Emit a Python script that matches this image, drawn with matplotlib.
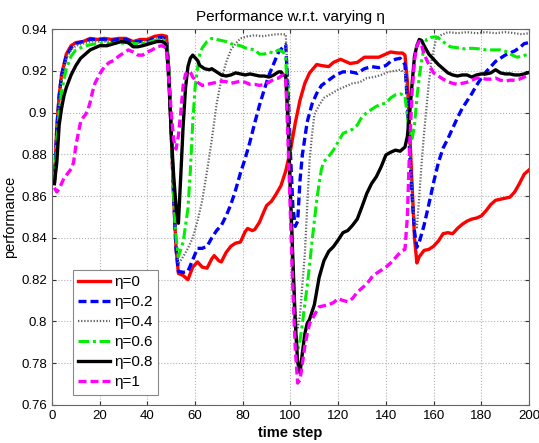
import matplotlib
matplotlib.use("Agg")
import matplotlib.pyplot as plt

plt.rcParams['font.family'] = ['Liberation Sans', 'DejaVu Sans']

# eta = 0
red_t = [1, 2, 3, 4, 6, 8, 10, 13, 16, 19, 22, 25, 28, 31, 34, 37, 40, 43, 46, 48,
         49, 50, 51, 52, 53, 55, 57, 59, 61, 63, 65, 67, 68, 70, 71, 73, 75, 77, 79, 81,
         82, 84, 85, 87, 89, 90, 92, 94, 96, 98, 100, 102, 104, 106, 108, 111, 113, 116, 118, 121,
         123, 125, 128, 131, 134, 137, 140, 142, 145, 147, 148, 149, 150, 151, 152, 153, 154, 156, 158, 160,
         162, 164, 166, 168, 170, 172, 174, 176, 178, 180, 182, 184, 186, 188, 190, 192, 194, 196, 198, 200]
red_v = [0.866, 0.893, 0.908, 0.918, 0.928, 0.932, 0.9335, 0.934, 0.9355, 0.935, 0.9355, 0.935, 0.9355, 0.9355, 0.934, 0.935, 0.935, 0.9365, 0.937, 0.9365,
         0.92, 0.89, 0.86, 0.835, 0.823, 0.822, 0.820, 0.826, 0.8285, 0.826, 0.8255, 0.830, 0.8315, 0.829, 0.8285, 0.833, 0.836, 0.8375, 0.838, 0.843,
         0.8445, 0.8435, 0.844, 0.8475, 0.853, 0.8555, 0.8575, 0.861, 0.865, 0.872, 0.882, 0.895, 0.906, 0.914, 0.919, 0.923, 0.9225, 0.922, 0.924, 0.9255,
         0.9245, 0.9235, 0.924, 0.9265, 0.9265, 0.9265, 0.928, 0.929, 0.9285, 0.9285, 0.9275, 0.915, 0.89, 0.865, 0.84, 0.828, 0.831, 0.834, 0.8345, 0.836,
         0.8385, 0.842, 0.8425, 0.842, 0.8445, 0.8465, 0.848, 0.849, 0.8495, 0.8505, 0.853, 0.856, 0.858, 0.8585, 0.859, 0.8595, 0.862, 0.866, 0.8705, 0.8725]

# eta = 0.2
blue_t = [1, 2, 3, 4, 6, 8, 10, 13, 16, 19, 22, 25, 28, 31, 34, 37, 40, 43, 46, 48,
          49, 50, 51, 52, 53, 55, 57, 59, 61, 63, 65, 67, 69, 71, 73, 75, 77, 79, 81, 83,
          85, 87, 89, 91, 93, 95, 97, 98, 99, 100, 101, 102, 103, 104, 105, 107, 109, 111, 113, 116,
          119, 122, 125, 128, 131, 134, 137, 140, 142, 144, 146, 147, 148, 149, 150, 151, 152, 153, 154, 156,
          158, 160, 162, 164, 166, 168, 170, 172, 174, 176, 178, 180, 182, 184, 186, 188, 190, 192, 194, 196, 198, 200]
blue_v = [0.866, 0.892, 0.908, 0.918, 0.927, 0.931, 0.933, 0.934, 0.935, 0.935, 0.935, 0.9345, 0.935, 0.935, 0.934, 0.934, 0.934, 0.9355, 0.936, 0.935,
          0.92, 0.89, 0.86, 0.835, 0.824, 0.8235, 0.824, 0.8295, 0.835, 0.835, 0.836, 0.840, 0.8435, 0.846, 0.8505, 0.856, 0.863, 0.871, 0.878, 0.886,
          0.895, 0.9035, 0.911, 0.918, 0.9235, 0.929, 0.9315, 0.9325, 0.91, 0.88, 0.855, 0.8455, 0.848, 0.8677, 0.88, 0.8955, 0.904, 0.9092, 0.913, 0.9155,
          0.918, 0.9195, 0.9195, 0.9188, 0.921, 0.922, 0.9215, 0.9225, 0.9245, 0.9255, 0.926, 0.9245, 0.923, 0.905, 0.88, 0.86, 0.843, 0.8355, 0.838, 0.846,
          0.856, 0.8665, 0.876, 0.883, 0.8875, 0.8925, 0.8975, 0.902, 0.9055, 0.909, 0.913, 0.9165, 0.9195, 0.922, 0.9245, 0.926, 0.9275, 0.9285, 0.9295, 0.931, 0.933, 0.9335]

# eta = 0.4
gray_t = [1, 2, 3, 4, 6, 8, 10, 13, 16, 19, 22, 25, 28, 31, 34, 37, 40, 43, 46, 48,
          49, 50, 51, 52, 53, 55, 57, 59, 61, 63, 65, 67, 69, 71, 73, 75, 77, 79, 82, 85,
          88, 91, 94, 96, 98, 99, 100, 101, 102, 103, 104, 105, 106, 107, 108, 109, 110, 112, 114, 117,
          120, 123, 126, 129, 132, 135, 138, 141, 144, 146, 148, 149, 150, 151, 152, 153, 154, 155, 156, 157,
          158, 159, 160, 161, 163, 166, 170, 174, 178, 182, 186, 190, 194, 197, 200]
gray_v = [0.866, 0.890, 0.906, 0.916, 0.926, 0.930, 0.932, 0.933, 0.934, 0.934, 0.934, 0.9335, 0.934, 0.934, 0.933, 0.9335, 0.9335, 0.935, 0.9355, 0.935,
          0.92, 0.89, 0.86, 0.838, 0.8275, 0.831, 0.835, 0.840, 0.848, 0.858, 0.872, 0.887, 0.904, 0.916, 0.924, 0.930, 0.933, 0.9355, 0.9365, 0.937,
          0.9365, 0.937, 0.9375, 0.9375, 0.9375, 0.915, 0.87, 0.83, 0.805, 0.797, 0.803, 0.818, 0.832, 0.855, 0.877, 0.889, 0.899, 0.9035, 0.907, 0.909,
          0.911, 0.9125, 0.914, 0.9145, 0.9165, 0.917, 0.918, 0.9195, 0.920, 0.9205, 0.919, 0.905, 0.885, 0.862, 0.848, 0.845, 0.86, 0.876, 0.89, 0.902,
          0.914, 0.924, 0.930, 0.935, 0.937, 0.9385, 0.938, 0.9385, 0.938, 0.9385, 0.938, 0.9385, 0.938, 0.9375, 0.938]

# eta = 0.6
green_t = [1, 2, 3, 4, 6, 8, 10, 13, 16, 19, 22, 25, 28, 31, 34, 37, 40, 43, 46, 48,
           49, 50, 51, 52, 53, 55, 57, 58, 59, 60, 61, 62, 63, 65, 67, 69, 71, 73, 75, 77,
           79, 81, 83, 85, 87, 89, 91, 93, 95, 97, 98, 99, 100, 101, 102, 103, 104, 105, 106, 107,
           108, 109, 110, 111, 112, 113, 114, 116, 118, 120, 122, 124, 126, 128, 130, 132, 134, 136, 138, 140,
           142, 144, 146, 148, 149, 150, 151, 152, 153, 154, 155, 156, 157, 159, 161, 163, 165, 167, 170, 173,
           176, 179, 182, 185, 188, 191, 193, 195, 197, 200]
green_v = [0.866, 0.885, 0.900, 0.910, 0.921, 0.927, 0.930, 0.9315, 0.9325, 0.933, 0.933, 0.933, 0.9335, 0.933, 0.933, 0.933, 0.9335, 0.9345, 0.935, 0.934,
           0.92, 0.89, 0.86, 0.84, 0.831, 0.838, 0.854, 0.872, 0.895, 0.912, 0.921, 0.928, 0.931, 0.934, 0.9355, 0.935, 0.9345, 0.934, 0.933, 0.9325,
           0.932, 0.931, 0.9305, 0.930, 0.928, 0.928, 0.929, 0.9285, 0.930, 0.929, 0.926, 0.90, 0.86, 0.82, 0.795, 0.786, 0.791, 0.799, 0.808, 0.817,
           0.827, 0.838, 0.848, 0.858, 0.866, 0.873, 0.8765, 0.879, 0.882, 0.886, 0.890, 0.891, 0.892, 0.894, 0.898, 0.900, 0.9015, 0.903, 0.904, 0.9045,
           0.907, 0.9085, 0.909, 0.908, 0.898, 0.889, 0.8875, 0.894, 0.907, 0.917, 0.925, 0.931, 0.935, 0.936, 0.9363, 0.935, 0.933, 0.9315, 0.931, 0.9305,
           0.9308, 0.9305, 0.930, 0.930, 0.930, 0.929, 0.9275, 0.9265, 0.927, 0.928]

# eta = 0.8
black_t = [1, 2, 3, 4, 5, 6, 8, 10, 12, 14, 16, 18, 20, 23, 26, 29, 32, 34, 36, 38,
           41, 44, 46, 47, 48, 49, 50, 51, 52, 53, 54, 55, 56, 57, 58, 59, 61, 62, 64, 66,
           67, 69, 71, 73, 75, 77, 79, 81, 83, 85, 87, 89, 91, 93, 95, 96, 97, 98, 99, 100,
           101, 102, 103, 104, 105, 106, 107, 108, 110, 112, 114, 116, 118, 120, 122, 124, 126, 128, 130, 132,
           134, 136, 138, 140, 142, 144, 146, 147, 148, 149, 150, 151, 152, 153, 154, 155, 156, 158, 160, 162,
           164, 166, 168, 170, 172, 174, 176, 178, 180, 182, 184, 186, 188, 190, 192, 194, 196, 198, 200]
black_v = [0.866, 0.876, 0.894, 0.902, 0.908, 0.912, 0.918, 0.9225, 0.926, 0.928, 0.930, 0.931, 0.932, 0.932, 0.933, 0.934, 0.9335, 0.9315, 0.9315, 0.932,
           0.933, 0.934, 0.934, 0.9335, 0.932, 0.915, 0.89, 0.87, 0.855, 0.847, 0.87, 0.894, 0.912, 0.922, 0.926, 0.9275, 0.925, 0.9225, 0.921, 0.9205,
           0.921, 0.9195, 0.918, 0.9175, 0.918, 0.919, 0.9185, 0.918, 0.9185, 0.918, 0.9175, 0.9175, 0.917, 0.918, 0.9195, 0.9195, 0.918, 0.9175, 0.895, 0.86,
           0.83, 0.80, 0.7805, 0.7755, 0.785, 0.794, 0.799, 0.801, 0.808, 0.821, 0.829, 0.8335, 0.8358, 0.839, 0.8425, 0.8435, 0.846, 0.849, 0.855, 0.8613,
           0.866, 0.8693, 0.874, 0.8797, 0.881, 0.882, 0.8815, 0.8825, 0.8835, 0.8885, 0.900, 0.914, 0.927, 0.932, 0.935, 0.9345, 0.932, 0.928, 0.9255, 0.923,
           0.921, 0.919, 0.918, 0.9175, 0.918, 0.918, 0.917, 0.918, 0.9185, 0.9185, 0.919, 0.9205, 0.919, 0.9185, 0.9185, 0.918, 0.918, 0.9185, 0.9192]

# eta = 1
mag_t = [1, 2, 3, 4, 5, 6, 7, 8, 9, 10, 11, 12, 13, 14, 15, 16, 17, 18, 20, 22,
         24, 26, 28, 30, 32, 34, 36, 38, 40, 42, 44, 46, 47, 48, 49, 50, 51, 52, 53, 54,
         55, 56, 57, 58, 59, 61, 63, 65, 67, 69, 71, 73, 75, 77, 79, 81, 83, 85, 87, 89,
         91, 93, 95, 96, 97, 98, 99, 100, 101, 102, 103, 104, 105, 106, 107, 108, 110, 112, 114, 116,
         118, 120, 122, 124, 126, 128, 130, 132, 134, 136, 138, 140, 142, 144, 146, 147, 148, 149, 150, 151,
         152, 153, 154, 155, 156, 157, 158, 160, 162, 164, 166, 168, 170, 172, 174, 176, 178, 180, 182, 184,
         186, 188, 190, 192, 194, 196, 198, 200]
mag_v = [0.864, 0.862, 0.8635, 0.866, 0.8685, 0.870, 0.8715, 0.873, 0.876, 0.884, 0.890, 0.8955, 0.8975, 0.899, 0.901, 0.905, 0.910, 0.914, 0.9185, 0.922,
         0.924, 0.925, 0.927, 0.9285, 0.930, 0.929, 0.9275, 0.9275, 0.929, 0.930, 0.9315, 0.932, 0.9315, 0.9305, 0.915, 0.90, 0.887, 0.8825, 0.889, 0.900,
         0.913, 0.9185, 0.9195, 0.9195, 0.917, 0.9145, 0.913, 0.9135, 0.914, 0.9145, 0.915, 0.9148, 0.914, 0.9145, 0.915, 0.9145, 0.9135, 0.9135, 0.913, 0.9135,
         0.9145, 0.916, 0.9165, 0.9175, 0.918, 0.9165, 0.885, 0.85, 0.815, 0.787, 0.7705, 0.772, 0.780, 0.788, 0.794, 0.799, 0.803, 0.807, 0.8075, 0.808,
         0.809, 0.811, 0.810, 0.8095, 0.811, 0.814, 0.816, 0.818, 0.821, 0.823, 0.8245, 0.826, 0.828, 0.8305, 0.833, 0.834, 0.8345, 0.850, 0.885, 0.910,
         0.925, 0.932, 0.934, 0.932, 0.928, 0.9255, 0.923, 0.919, 0.9175, 0.916, 0.9148, 0.914, 0.9135, 0.914, 0.9145, 0.9155, 0.9165, 0.9165, 0.916, 0.916,
         0.9165, 0.9155, 0.915, 0.9155, 0.9155, 0.916, 0.917, 0.918]

labels = [u"\u03b7=0", u"\u03b7=0.2", u"\u03b7=0.4", u"\u03b7=0.6", u"\u03b7=0.8", u"\u03b7=1"]

fig = plt.figure(figsize=(5.39, 4.43), dpi=100)
ax = fig.add_axes([0.0965, 0.0858, 0.8849, 0.8487])

ax.plot(red_t, red_v, color='#ff0000', lw=2.4, ls='-', label=labels[0])
ax.plot(blue_t, blue_v, color='#0000ff', lw=2.4, ls=(0, (2.4, 1.2)), label=labels[1])
ax.plot(gray_t, gray_v, color='#666666', lw=1.6, ls=(0, (0.6, 0.8)), label=labels[2])
ax.plot(green_t, green_v, color='#00ee00', lw=2.2, ls=(0, (3.5, 1.2, 1, 1.2)), label=labels[3])
ax.plot(black_t, black_v, color='black', lw=2.4, ls='-', label=labels[4])
ax.plot(mag_t, mag_v, color='#ff00ff', lw=2.4, ls=(0, (2.4, 1.2)), label=labels[5])

ax.set_xlim(0, 200)
ax.set_ylim(0.76, 0.94)
ax.set_xticks(range(0, 201, 20))
yt = [0.76, 0.78, 0.8, 0.82, 0.84, 0.86, 0.88, 0.9, 0.92, 0.94]
ax.set_yticks(yt)
ax.set_yticklabels(['%g' % v for v in yt])
ax.tick_params(direction='in', length=3, labelsize=9.5, top=True, right=True, colors='#333333')
ax.tick_params(labelcolor='black')
for s in ax.spines.values():
    s.set_color('#666666')
ax.grid(True, ls=':', color='#b0b0b0', lw=0.8)

ax.set_title(u"Performance w.r.t. varying \u03b7", fontsize=11)
ax.set_xlabel("time step", fontsize=10.5, fontweight='bold', labelpad=3)
ax.set_ylabel("performance", fontsize=10.5, labelpad=3)

leg = ax.legend(loc='lower left', bbox_to_anchor=(0.043, 0.027), borderaxespad=0,
                fontsize=11, handlelength=2.1, labelspacing=0.4, handletextpad=0.3,
                fancybox=False, framealpha=1, edgecolor='#888888', borderpad=0.35)
leg.get_frame().set_linewidth(0.8)

fig.savefig("out.png", dpi=100)
